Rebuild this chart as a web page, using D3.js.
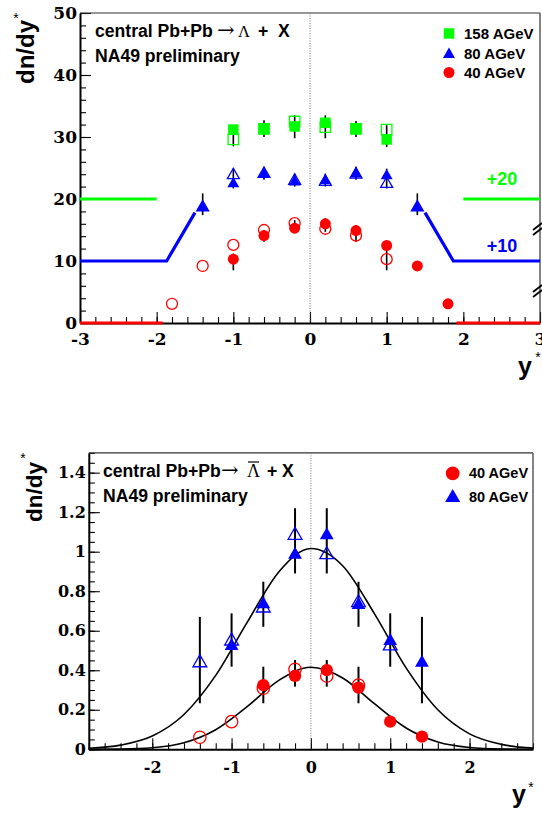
<!DOCTYPE html>
<html><head><meta charset="utf-8">
<script src="https://cdn.jsdelivr.net/npm/d3@7"></script>
<style>
html,body{margin:0;padding:0;background:#fff;}
svg{display:block;}
</style></head><body>
<svg id="c" width="542" height="814"></svg>
<script>
// ---------------- DATA: top panel (Lambda) ----------------
const topXTicks = [-3, -2, -1, 0, 1, 2, 3];
const topXTickLabels = ["-3", "-2", "-1", "0", "1", "2", "3"];
const topYTicks = [0, 10, 20, 30, 40, 50];
const topYTickLabels = ["0", "10", "20", "30", "40", "50"];

// 158 AGeV (+20 offset applied in plot)
const g158X = [-1, -0.6, -0.2, 0.2, 0.6, 1];
const g158Filled = [31.2, 31.3, 31.7, 32.3, 31.3, 29.6];
const g158Open = [29.6, 31.3, 32.5, 31.6, 31.3, 31.2];
const g158ErrLo = [28.5, 30.0, 29.8, 29.8, 30.0, 28.4];
const g158ErrHi = [31.9, 32.7, 33.5, 33.5, 32.6, 31.9];

// 80 AGeV (+10 offset)
const b80X = [-1.4, -1, -0.6, -0.2, 0.2, 0.6, 1, 1.4];
const b80Filled = [18.8, 22.6, 24.1, 22.9, 23.1, 24.2, 23.9, 18.8];
const b80Open = [18.8, 24.0, 24.2, 23.1, 22.9, 24.1, 22.6, 18.8];
const b80ErrLo = [17.4, 21.7, 23.1, 22.0, 22.0, 23.1, 21.7, 17.4];
const b80ErrHi = [20.9, 24.9, 25.2, 24.1, 24.1, 25.2, 24.9, 20.9];

// 40 AGeV
const r40FilledX = [-1, -0.6, -0.2, 0.2, 0.6, 1, 1.4, 1.8];
const r40Filled = [10.3, 14.1, 15.3, 16.0, 14.9, 12.5, 9.2, 3.1];
const r40OpenX = [-1.8, -1.4, -1, -0.6, -0.2, 0.2, 0.6, 1];
const r40Open = [3.1, 9.2, 12.6, 15.0, 16.1, 15.2, 14.1, 10.3];
const r40ErrLo = [8.5, 13.1, 14.5, 14.7, 13.1, 8.5, 9.0, 2.9];
const r40ErrHi = [11.2, 15.0, 16.6, 16.9, 15.8, 11.8, 9.4, 3.3];

// offset guide lines [x, y]
const greenLineL = [[-3, 20], [-2, 20]];
const greenLineR = [[2, 20], [3, 20]];
const blueLineL = [[-3, 10], [-1.87, 10], [-1.5, 17.8]];
const blueLineR = [[1.5, 17.8], [1.87, 10], [3, 10]];
const redLineL = [[-3, 0], [-1.92, 0]];
const redLineR = [[1.91, 0], [3, 0]];

const topLegend = ["158 AGeV", "80 AGeV", "40 AGeV"];

// ---------------- DATA: bottom panel (anti-Lambda) ----------------
const botXTicks = [-2, -1, 0, 1, 2];
const botXTickLabels = ["-2", "-1", "0", "1", "2"];
const botYTicks = [0, 0.2, 0.4, 0.6, 0.8, 1, 1.2, 1.4];
const botYTickLabels = ["0", "0.2", "0.4", "0.6", "0.8", "1", "1.2", "1.4"];

const ab80FilledX = [-1, -0.6, -0.2, 0.2, 0.6, 1, 1.4];
const ab80Filled = [0.528, 0.739, 0.99, 1.088, 0.735, 0.553, 0.443];
const ab80OpenX = [-1.4, -1, -0.6, -0.2, 0.2, 0.6, 1];
const ab80Open = [0.443, 0.553, 0.72, 1.088, 0.99, 0.747, 0.528];
const ab80ErrX = [-1.4, -1, -0.6, -0.2, 0.2, 0.6, 1, 1.4];
const ab80ErrLo = [0.233, 0.418, 0.62, 0.89, 0.89, 0.62, 0.418, 0.233];
const ab80ErrHi = [0.67, 0.688, 0.848, 1.22, 1.22, 0.848, 0.688, 0.67];

const ab40FilledX = [-0.6, -0.2, 0.2, 0.6, 1, 1.4];
const ab40Filled = [0.325, 0.372, 0.401, 0.312, 0.14, 0.064];
const ab40OpenX = [-1.4, -1, -0.6, -0.2, 0.2, 0.6];
const ab40Open = [0.061, 0.14, 0.309, 0.405, 0.371, 0.325];
const ab40ErrX = [-0.6, -0.2, 0.2, 0.6];
const ab40ErrLo = [0.233, 0.317, 0.317, 0.233];
const ab40ErrHi = [0.418, 0.452, 0.452, 0.418];

// fit curves
const fitX = [-2.8, -2.4, -2.0, -1.6, -1.2, -0.8, -0.4, 0, 0.4, 0.8, 1.2, 1.6, 2.0, 2.4, 2.8];
const fit80 = [0.005, 0.021, 0.067, 0.176, 0.374, 0.645, 0.900, 1.016, 0.929, 0.687, 0.412, 0.200, 0.078, 0.025, 0.006];
const fit40 = [0.0002, 0.0015, 0.008, 0.033, 0.099, 0.217, 0.350, 0.415, 0.361, 0.231, 0.108, 0.037, 0.0095, 0.0018, 0.0002];

const botLegend = ["40 AGeV", "80 AGeV"];

// ---------------- STYLE ----------------
const GREEN = "#00ff00", BLUE = "#0000ff", RED = "#ff0000";
const SANS = "'Liberation Sans', Arial, Helvetica, sans-serif";
const TICKFONT = "'DejaVu Serif', 'Liberation Serif', serif";
const SYMFONT = "'DejaVu Serif', 'Liberation Serif', serif";

const svg = d3.select("#c");

// ---------------- helpers ----------------
function axes(g, x, y, o) {
  const [x0, x1] = x.range();
  const [yb, yt] = y.range();
  g.append("g").attr("transform", `translate(${x0},0)`)
    .call(d3.axisLeft(y).tickValues(o.yMinor).tickSize(-6).tickSizeOuter(0).tickFormat(""))
    .call(s => s.select(".domain").remove());
  g.append("g").attr("transform", `translate(0,${yb})`)
    .call(d3.axisBottom(x).tickValues(o.xMinor).tickSize(-6).tickSizeOuter(0).tickFormat(""))
    .call(s => s.select(".domain").remove());
  const ya = g.append("g").attr("transform", `translate(${x0},0)`)
    .call(d3.axisLeft(y).tickValues(o.yTicks).tickSize(-11).tickSizeOuter(0).tickPadding(3)
      .tickFormat((d, i) => o.yLabels[i]));
  const xa = g.append("g").attr("transform", `translate(0,${yb})`)
    .call(d3.axisBottom(x).tickValues(o.xTicks).tickSize(-11).tickSizeOuter(0).tickPadding(o.xPad)
      .tickFormat((d, i) => o.xLabels[i]));
  [ya, xa].forEach(a => {
    a.select(".domain").attr("stroke", "#000").attr("stroke-width", 2);
    a.selectAll(".tick text")
      .style("font-family", TICKFONT).style("font-size", o.fs + "px").style("font-weight", "bold")
      .attr("fill", "#000");
  });
  g.selectAll(".tick line").attr("stroke", "#000").attr("stroke-width", 1.1);
  g.append("line").attr("x1", x0).attr("x2", x1).attr("y1", yt).attr("y2", yt)
    .attr("stroke", "#333").attr("stroke-width", 1.2);
  g.append("line").attr("x1", x1).attr("x2", x1).attr("y1", yt).attr("y2", yb)
    .attr("stroke", "#333").attr("stroke-width", 1.2);
  g.append("line").attr("x1", x(0)).attr("x2", x(0)).attr("y1", yt).attr("y2", yb)
    .attr("stroke", "#777").attr("stroke-width", 1).attr("stroke-dasharray", "1,1.5");
}

const symbols = { square: d3.symbolSquare, triangle: d3.symbolTriangle, circle: d3.symbolCircle };
function points(g, x, y, xs, vs, type, color, filled, size) {
  g.append("g").selectAll("path").data(xs.map((d, i) => [d, vs[i]])).join("path")
    .attr("d", d3.symbol(symbols[type], size)())
    .attr("transform", d => `translate(${x(d[0])},${y(d[1]) + (type === "triangle" ? 1 : 0)})`)
    .attr("fill", filled ? color : "none")
    .attr("stroke", filled ? "none" : color)
    .attr("stroke-width", 1.3);
}
function errs(g, x, y, xs, lo, hi, w) {
  g.append("g").selectAll("line").data(xs.map((d, i) => [d, lo[i], hi[i]])).join("line")
    .attr("x1", d => x(d[0])).attr("x2", d => x(d[0]))
    .attr("y1", d => y(d[1])).attr("y2", d => y(d[2]))
    .attr("stroke", "#000").attr("stroke-width", w);
}
function header(g, p) {
  const txt = (x, s, fam, w, fs) => g.append("text").attr("x", x).attr("y", p.y1)
    .style("font-family", fam).style("font-weight", w).style("font-size", fs + "px").attr("fill", "#000").text(s);
  txt(p.x, "central Pb+Pb", SANS, "bold", 17.6);
  txt(p.arrowX, "\u2192", SYMFONT, "normal", 21);
  const lam = txt(p.lamX, "\u039B", "'Liberation Serif', serif", "normal", p.lamFs);
  txt(p.plusX, "+", SANS, "bold", 17.6);
  txt(p.xX, "X", SANS, "bold", 17.6);
  if (p.bar) {
    const bb = lam.node().getBBox();
    g.append("line").attr("x1", bb.x + 1).attr("x2", bb.x + bb.width - 1)
      .attr("y1", p.y1 - 15).attr("y2", p.y1 - 15).attr("stroke", "#000").attr("stroke-width", 1.2);
  }
  g.append("text").attr("x", p.x).attr("y", p.y2)
    .style("font-family", SANS).style("font-weight", "bold").style("font-size", "17.6px").attr("fill", "#000")
    .text("NA49 preliminary");
}
function ylabel(g, bx, endY, fs, sx, sy) {
  g.append("text").attr("transform", `translate(${bx},${endY}) rotate(-90)`)
    .attr("text-anchor", "end").style("font-family", SANS).style("font-weight", "bold")
    .style("font-size", fs + "px").attr("fill", "#000").text("dn/dy");
  g.append("text").attr("x", sx).attr("y", sy).attr("text-anchor", "middle")
    .style("font-family", SANS).style("font-size", "14px").attr("fill", "#000").text("*");
}
function xlabel(g, x, y, sx, sy) {
  g.append("text").attr("x", x).attr("y", y).style("font-family", SANS).style("font-weight", "bold")
    .style("font-size", "25px").attr("fill", "#000").text("y");
  g.append("text").attr("x", sx).attr("y", sy).attr("text-anchor", "middle")
    .style("font-family", SANS).style("font-size", "14px").attr("fill", "#000").text("*");
}

// ================= TOP PANEL =================
{
  const g = svg.append("g");
  const x = d3.scaleLinear().domain([-3, 3]).range([80, 540]);
  const y = d3.scaleLinear().domain([0, 50]).range([323, 13]);
  axes(g, x, y, {
    yTicks: topYTicks, yLabels: topYTickLabels, yMinor: d3.range(0, 51, 2),
    xTicks: topXTicks, xLabels: topXTickLabels, xMinor: d3.range(-30, 31, 2).map(v => v / 10),
    fs: 17, xPad: 10
  });
  [229, 291].forEach(cy => {
    [-2.5, 2.5].forEach(dy => {
      g.append("line").attr("x1", 533).attr("y1", cy + dy + 3.5).attr("x2", 542).attr("y2", cy + dy - 3.5)
        .attr("stroke", "#000").attr("stroke-width", 1.8);
    });
  });
  const line = d3.line().x(d => x(d[0])).y(d => y(d[1]));
  [[greenLineL, GREEN], [greenLineR, GREEN], [blueLineL, BLUE], [blueLineR, BLUE], [redLineL, RED], [redLineR, RED]]
    .forEach(([pts, c]) => g.append("path").attr("d", line(pts)).attr("fill", "none")
      .attr("stroke", c).attr("stroke-width", 3.2));
  g.append("text").attr("x", 502).attr("y", 185).attr("text-anchor", "middle").style("font-family", SANS)
    .style("font-weight", "bold").style("font-size", "18px").attr("fill", GREEN).text("+20");
  g.append("text").attr("x", 502).attr("y", 252).attr("text-anchor", "middle").style("font-family", SANS)
    .style("font-weight", "bold").style("font-size", "18px").attr("fill", BLUE).text("+10");

  errs(g, x, y, g158X, g158ErrLo, g158ErrHi, 1.6);
  errs(g, x, y, b80X, b80ErrLo, b80ErrHi, 1.6);
  errs(g, x, y, r40FilledX, r40ErrLo, r40ErrHi, 1.6);
  points(g, x, y, r40OpenX, r40Open, "circle", RED, false, 95);
  points(g, x, y, r40FilledX, r40Filled, "circle", RED, true, 95);
  points(g, x, y, b80X, b80Open, "triangle", BLUE, false, 62);
  points(g, x, y, b80X, b80Filled, "triangle", BLUE, true, 62);
  points(g, x, y, g158X, g158Open, "square", GREEN, false, 110);
  points(g, x, y, g158X, g158Filled, "square", GREEN, true, 110);

  header(g, { x: 95, y1: 37, y2: 62, arrowX: 217, lamX: 238, lamFs: 16.5, plusX: 258, xX: 278, bar: false });
  const lx = 449, ly = [33.5, 53.5, 72.5], types = ["square", "triangle", "circle"], cols = [GREEN, BLUE, RED];
  topLegend.forEach((t, i) => {
    g.append("path").attr("d", d3.symbol(symbols[types[i]], i === 0 ? 110 : (i === 1 ? 62 : 95))())
      .attr("transform", `translate(${lx},${ly[i] + (i === 1 ? 1 : 0)})`).attr("fill", cols[i]);
    g.append("text").attr("x", 464).attr("y", ly[i] + 5.3).style("font-family", SANS).style("font-weight", "bold")
      .style("font-size", "15px").attr("fill", "#000").text(t);
  });
  ylabel(g, 33.5, 20, 24, 16, 23);
  xlabel(g, 518, 375, 538, 362);
}

// ================= BOTTOM PANEL =================
{
  const g = svg.append("g");
  const x = d3.scaleLinear().domain([-2.8, 2.8]).range([88.8, 533]);
  const y = d3.scaleLinear().domain([0, 1.5]).range([749.3, 452.9]);
  axes(g, x, y, {
    yTicks: botYTicks, yLabels: botYTickLabels, yMinor: d3.range(0, 31).map(i => i * 0.05),
    xTicks: botXTicks, xLabels: botXTickLabels, xMinor: d3.range(-14, 15).map(i => i * 0.2),
    fs: 16, xPad: 12
  });
  const fl = d3.line().x((d, i) => x(fitX[i])).y(d => y(d)).curve(d3.curveMonotoneX);
  g.append("path").attr("d", fl(fit80)).attr("fill", "none").attr("stroke", "#000").attr("stroke-width", 1.6);
  g.append("path").attr("d", fl(fit40)).attr("fill", "none").attr("stroke", "#000").attr("stroke-width", 1.6);

  errs(g, x, y, ab80ErrX, ab80ErrLo, ab80ErrHi, 2);
  errs(g, x, y, ab40ErrX, ab40ErrLo, ab40ErrHi, 2);
  points(g, x, y, ab40OpenX, ab40Open, "circle", RED, false, 120);
  points(g, x, y, ab40FilledX, ab40Filled, "circle", RED, true, 120);
  points(g, x, y, ab80OpenX, ab80Open, "triangle", BLUE, false, 82);
  points(g, x, y, ab80FilledX, ab80Filled, "triangle", BLUE, true, 82);

  header(g, { x: 103, y1: 477, y2: 501.5, arrowX: 221, lamX: 247, lamFs: 18, plusX: 267, xX: 282, bar: true });
  const lx = 452.7, ly = [473.3, 496.7], types = ["circle", "triangle"], cols = [RED, BLUE];
  botLegend.forEach((t, i) => {
    g.append("path").attr("d", d3.symbol(symbols[types[i]], i === 0 ? 150 : 100)())
      .attr("transform", `translate(${lx},${ly[i] + (i === 1 ? 1 : 0)})`).attr("fill", cols[i]);
    g.append("text").attr("x", 469).attr("y", ly[i] + 4.8).style("font-family", SANS).style("font-weight", "bold")
      .style("font-size", "14.5px").attr("fill", "#000").text(t);
  });
  ylabel(g, 42, 462, 22.5, 23, 463);
  xlabel(g, 512, 803, 531, 792);
}
</script>
</body></html>
